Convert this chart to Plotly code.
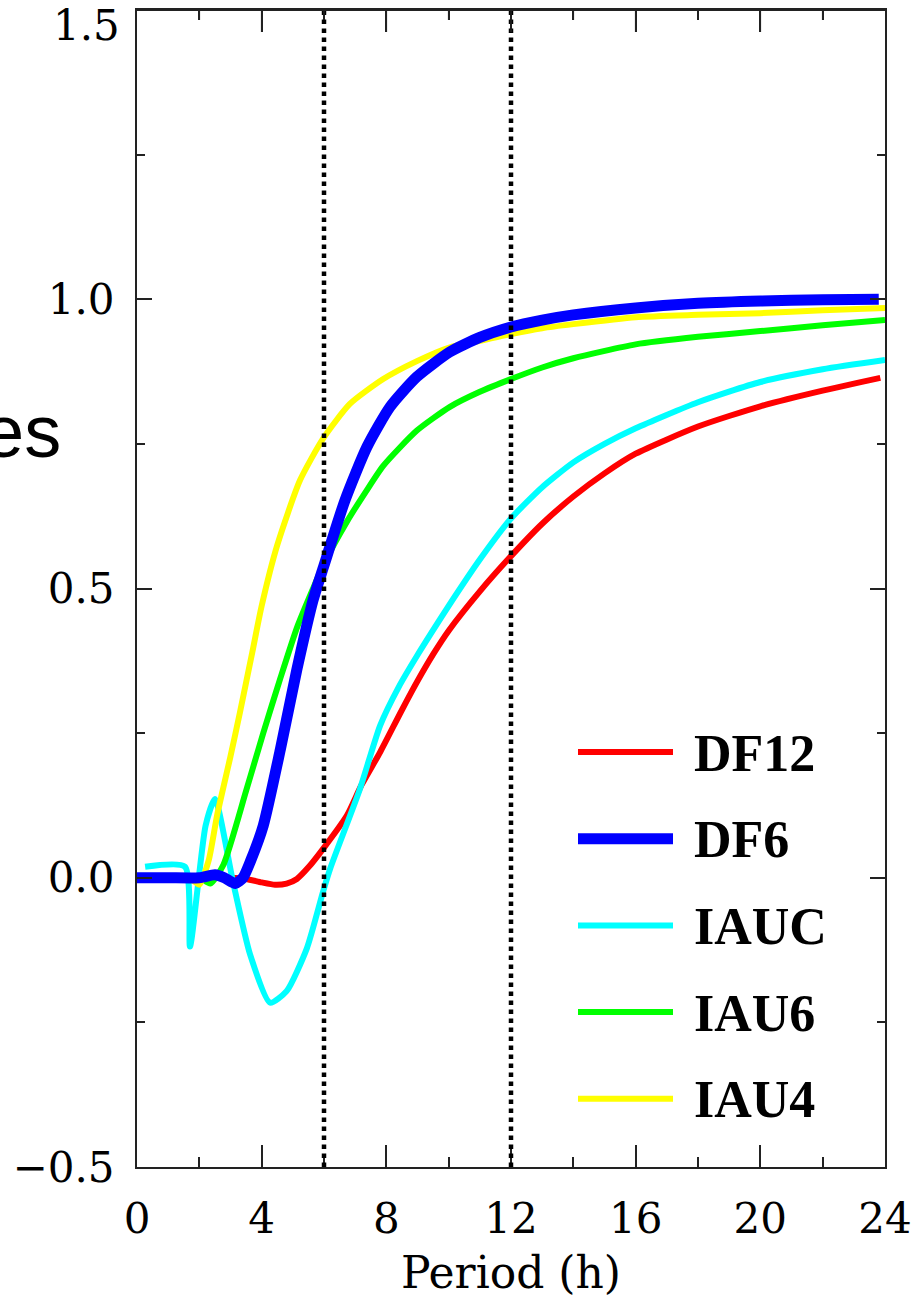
import plotly.graph_objects as go

# ---------------- data ----------------
series_names = ["DF12", "DF6", "IAUC", "IAU6", "IAU4"]
series_colors = ["#FF0000", "#0000FF", "#00FFFF", "#00FF00", "#FFFF00"]
series_widths = [6, 11, 6, 6, 6]

df12_x = [0, 1, 2, 3.0, 3.5, 4.0, 4.43, 4.8, 5.13, 5.5, 5.97, 6.74, 7.2, 7.8, 8.5, 9.0,
          9.5, 10.0, 11, 12, 13, 14, 15, 16, 18, 20, 22, 23.85]
df12_y = [0, 0, 0, 0, -0.002, -0.008, -0.012, -0.01, -0.002, 0.018, 0.05, 0.108, 0.16,
          0.217, 0.29, 0.34, 0.386, 0.427, 0.495, 0.556, 0.612, 0.659, 0.699, 0.733,
          0.78, 0.815, 0.842, 0.864]

df6_x = [0, 1, 2, 2.5, 2.8, 3.15, 3.4, 3.65, 4.05, 4.6, 5.13, 5.65, 6.0, 6.67, 7.38,
         8.12, 8.98, 10.04, 11, 12, 13, 14, 16, 18, 20, 22, 23.8]
df6_y = [0, 0, 0, 0.005, 0.0, -0.01, 0.0, 0.03, 0.09, 0.222, 0.36, 0.48, 0.54, 0.652,
         0.745, 0.814, 0.866, 0.909, 0.934, 0.952, 0.964, 0.973, 0.985, 0.993, 0.997,
         0.999, 1.0]

iauc_x = [0.26, 1.54, 1.7, 2.2, 2.5, 3.08, 3.63, 4.27, 4.8, 5.45, 5.97, 6.2, 7.15, 7.8,
          8.4, 9.0, 9.5, 10, 11, 12, 13, 14, 15, 16, 18, 20, 22, 24]
iauc_y = [0.019, 0.019, -0.119, 0.09, 0.136, -0.007, -0.133, -0.216, -0.196, -0.122,
          -0.024, 0.016, 0.153, 0.263, 0.33, 0.385, 0.428, 0.47, 0.55, 0.621, 0.675,
          0.718, 0.75, 0.777, 0.822, 0.857, 0.879, 0.895]

iau6_x = [0, 1, 2, 2.35, 2.77, 3.5, 4.05, 4.6, 5.13, 5.65, 6.0, 6.74, 7.35, 7.9, 8.98,
          10.04, 11, 12, 13, 14, 16, 18, 20, 22, 24]
iau6_y = [0, 0, 0, -0.01, 0.022, 0.15, 0.25, 0.345, 0.432, 0.5, 0.543, 0.616, 0.668,
          0.712, 0.773, 0.814, 0.84, 0.862, 0.882, 0.898, 0.922, 0.935, 0.945, 0.955,
          0.964]

iau4_x = [0, 1, 1.8, 2.0, 2.3, 2.57, 3.0, 3.3, 3.7, 4.0, 4.5, 5.23, 5.97, 6.83, 7.9,
          8.98, 10.04, 11, 12, 13, 14, 16, 18, 20, 22, 24]
iau4_y = [0, 0, -0.005, -0.012, 0.03, 0.108, 0.21, 0.285, 0.39, 0.47, 0.575, 0.687, 0.759,
          0.819, 0.862, 0.893, 0.917, 0.928, 0.94, 0.95, 0.957, 0.969, 0.973, 0.976,
          0.981, 0.985]

ref_periods = [6, 12]
x_ticks = [0, 4, 8, 12, 16, 20, 24]
x_minor_ticks = [2, 6, 10, 14, 18, 22]
y_ticks = [-0.5, 0.0, 0.5, 1.0, 1.5]
y_tick_labels = ["\u22120.5", "0.0", "0.5", "1.0", "1.5"]
x_title = "Period (h)"
y_title_fragment = "es"

series_data = {
    "DF12": (df12_x, df12_y),
    "DF6": (df6_x, df6_y),
    "IAUC": (iauc_x, iauc_y),
    "IAU6": (iau6_x, iau6_y),
    "IAU4": (iau4_x, iau4_y),
}
draw_order = ["DF12", "IAUC", "IAU6", "IAU4", "DF6"]

# ---------------- layout geometry ----------------
W, H = 923, 1298
ML, MR, MT, MB = 137, 38, 10, 131
PW, PH = W - ML - MR, H - MT - MB
X_RANGE = [0, 24]


def px_x(p):
    return (p - ML) / PW


def px_y(p):
    return (H - MB - p) / PH


def x_frac(v):
    return (v - X_RANGE[0]) / (X_RANGE[1] - X_RANGE[0])


fig = go.Figure()

for name in draw_order:
    i = series_names.index(name)
    xs, ys = series_data[name]
    fig.add_trace(go.Scatter(
        x=xs, y=ys, mode="lines", name=name, showlegend=False,
        line=dict(color=series_colors[i], width=series_widths[i],
                  shape="spline", smoothing=0.6),
    ))

for xv in ref_periods:
    fig.add_shape(type="line", xref="x", yref="y", x0=xv, x1=xv, y0=-0.5, y1=1.5,
                  line=dict(color="black", width=4.5, dash="dot"), layer="above")

axis_color = "#222"

# top frame edge with its inward ticks
fig.add_shape(type="line", xref="paper", yref="paper", x0=0, x1=1, y0=1, y1=1,
              line=dict(color=axis_color, width=2))
for xv in x_ticks[1:-1]:
    fig.add_shape(type="line", xref="paper", yref="paper", x0=x_frac(xv), x1=x_frac(xv),
                  y0=1, y1=1 - 22 / PH, line=dict(color=axis_color, width=1.5))
for xv in x_minor_ticks:
    fig.add_shape(type="line", xref="paper", yref="paper", x0=x_frac(xv), x1=x_frac(xv),
                  y0=1, y1=1 - 10 / PH, line=dict(color=axis_color, width=1.5))

# manual legend
leg_line_x0, leg_line_x1, leg_text_x = 578, 673, 692
leg_y0, leg_step = 752, 86.7
for i, name in enumerate(series_names):
    yp = leg_y0 + i * leg_step
    fig.add_shape(type="line", xref="paper", yref="paper",
                  x0=px_x(leg_line_x0), x1=px_x(leg_line_x1), y0=px_y(yp), y1=px_y(yp),
                  line=dict(color=series_colors[i], width=series_widths[i]))
    fig.add_annotation(text="<b>%s</b>" % name, xref="paper", yref="paper",
                       x=px_x(leg_text_x), y=px_y(yp + 1), xanchor="left", yanchor="middle",
                       showarrow=False,
                       font=dict(family="Liberation Serif, Times New Roman, serif",
                                 size=52, color="black"))

# clipped y-axis caption fragment
fig.add_annotation(text=y_title_fragment, xref="paper", yref="paper", x=px_x(63),
                   y=px_y(431), xanchor="right", yanchor="middle", showarrow=False,
                   font=dict(family="Liberation Sans, Arial, sans-serif", size=74,
                             color="black"))

tick_font = dict(family="DejaVu Serif, serif", size=42, color="black")
title_font = dict(family="DejaVu Serif, serif", size=44, color="black")

# top tick label is pushed down inside the page (as in the reference)
fig.add_annotation(text=y_tick_labels[-1], xref="paper", yref="paper", x=px_x(122),
                   y=px_y(25), xanchor="right", yanchor="middle", showarrow=False,
                   font=tick_font)

fig.update_layout(
    width=W, height=H, autosize=False, showlegend=False,
    margin=dict(l=ML, r=MR, t=MT, b=MB, pad=0),
    plot_bgcolor="white", paper_bgcolor="white",
    xaxis=dict(range=X_RANGE, tickvals=x_ticks, ticks="inside", ticklen=22, tickwidth=1.5,
               tickcolor=axis_color, showline=True, linecolor=axis_color, linewidth=2,
               mirror="allticks", showgrid=False, zeroline=False, tickfont=tick_font,
               ticklabelstandoff=14, automargin=False,
               minor=dict(dtick=2, tick0=0, ticks="inside", ticklen=10, tickwidth=1.5,
                          tickcolor=axis_color, showgrid=False),
               title=dict(text=x_title, font=title_font, standoff=22)),
    yaxis=dict(range=[-0.5, 1.5], tickvals=y_ticks,
               ticktext=y_tick_labels[:-1] + [""], ticks="inside",
               ticklen=15, tickwidth=1.5, tickcolor=axis_color, showline=True,
               linecolor=axis_color, linewidth=2, mirror="allticks", showgrid=False,
               zeroline=False, tickfont=tick_font, ticklabelstandoff=12, automargin=False,
               minor=dict(dtick=0.25, tick0=0, ticks="inside", ticklen=8, tickwidth=1.5,
                          tickcolor=axis_color, showgrid=False)),
)

fig.write_html("out.html")
